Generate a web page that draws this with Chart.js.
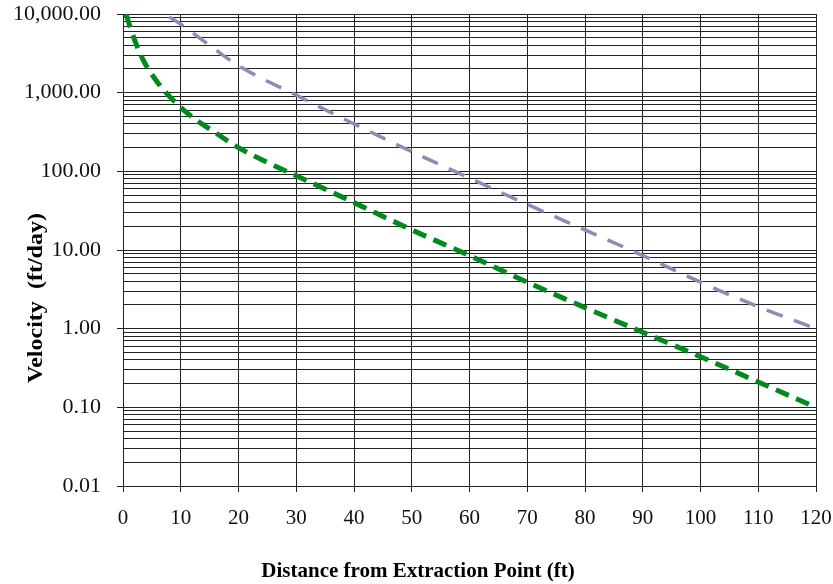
<!DOCTYPE html>
<html>
<head>
<meta charset="utf-8">
<script src="https://cdn.jsdelivr.net/npm/chart.js@4.4.1/dist/chart.umd.min.js"></script>
<style>
  html, body { margin: 0; padding: 0; background: #ffffff; }
  #wrap { width: 833px; height: 584px; }
</style>
</head>
<body>
<div id="wrap"><canvas id="c" width="833" height="584"></canvas></div>
<script>
// ---- Data ----
const greenDistance = [0.5, 2, 3.5, 6, 9, 12, 16, 20, 25, 30, 40, 50, 60, 70, 80, 90, 100, 110, 120];
const greenVelocity = [10000, 4700, 2600, 1350, 760, 490, 310, 200, 130, 88, 40, 18, 8.5, 3.9, 1.85, 0.9, 0.44, 0.21, 0.1];

const greyDistance = [8, 10, 15, 20, 30, 40, 50, 60, 70, 80, 90, 100, 110, 120];
const greyVelocity = [9200, 7400, 4000, 2200, 930, 400, 178, 82, 38, 18, 8.5, 3.9, 1.9, 1.0];

const xTickValues = [0, 10, 20, 30, 40, 50, 60, 70, 80, 90, 100, 110, 120];
const yTickValues = [0.01, 0.1, 1, 10, 100, 1000, 10000];
const yTickLabels = ['0.01', '0.10', '1.00', '10.00', '100.00', '1,000.00', '10,000.00'];

const xTitle = 'Distance from Extraction Point (ft)';
const yTitle = 'Velocity  (ft/day)';

// ---- Build chart ----
const toPoints = (xs, ys) => xs.map((x, i) => ({ x: x, y: ys[i] }));

function isMajor(v) {
  return yTickValues.some(t => Math.abs(v - t) / t < 1e-6);
}

const titlePlugin = {
  id: 'axisTitles',
  afterDraw(chart) {
    const ctx = chart.ctx;
    ctx.save();
    ctx.fillStyle = '#000';
    ctx.font = 'bold 21px "Liberation Serif", "Times New Roman", serif';
    ctx.textAlign = 'center';
    ctx.textBaseline = 'middle';
    ctx.fillText(xTitle, 418, 572);
    const w = ctx.measureText(yTitle).width;
    ctx.translate(37, 298);
    ctx.rotate(-Math.PI / 2);
    ctx.scale(170 / w, 1);
    ctx.fillText(yTitle, 0, 0);
    ctx.restore();
  }
};

new Chart(document.getElementById('c'), {
  type: 'line',
  data: {
    datasets: [
      {
        label: 'Series 2',
        data: toPoints(greyDistance, greyVelocity),
        borderColor: '#8c8cb4',
        borderWidth: 3.5,
        borderDash: [17, 12],
        pointRadius: 0,
        fill: false,
        cubicInterpolationMode: 'monotone'
      },
      {
        label: 'Series 1',
        data: toPoints(greenDistance, greenVelocity),
        borderColor: '#008a1e',
        borderWidth: 5,
        borderDash: [14, 8],
        pointRadius: 0,
        fill: false,
        cubicInterpolationMode: 'monotone'
      }
    ]
  },
  options: {
    responsive: false,
    animation: false,
    devicePixelRatio: 1,
    layout: { padding: { left: 0, top: 14, right: 17, bottom: 0 } },
    plugins: {
      legend: { display: false },
      tooltip: { enabled: false }
    },
    scales: {
      x: {
        type: 'linear',
        min: 0,
        max: 120,
        afterBuildTicks(scale) {
          scale.ticks = xTickValues.map(v => ({ value: v }));
        },
        afterFit(scale) {
          scale.height = 98;
          scale.paddingLeft = 0; scale.paddingRight = 0;
          scale.paddingTop = 0; scale.paddingBottom = 0;
        },
        grid: {
          color: '#222',
          lineWidth: 1,
          tickLength: 6,
          tickColor: '#222'
        },
        border: { color: '#222', width: 1 },
        ticks: {
          padding: 14,
          color: '#111',
          font: { family: '"Liberation Serif", "Times New Roman", serif', size: 21 },
          maxRotation: 0,
          autoSkip: false
        }
      },
      y: {
        type: 'logarithmic',
        min: 0.01,
        max: 10000,
        afterBuildTicks(scale) {
          const ticks = [];
          for (let i = 0; i < yTickValues.length; i++) {
            const base = yTickValues[i];
            if (i === yTickValues.length - 1) {
              ticks.push({ value: base });
            } else {
              for (let m = 1; m <= 9; m++) ticks.push({ value: base * m });
            }
          }
          scale.ticks = ticks;
        },
        afterFit(scale) {
          scale.width = 123;
          scale.paddingLeft = 0; scale.paddingRight = 0;
          scale.paddingTop = 0; scale.paddingBottom = 0;
        },
        grid: {
          color: '#222',
          lineWidth: 1,
          tickLength: 6,
          tickColor: (ctx) => (ctx.tick && isMajor(ctx.tick.value)) ? '#222' : 'rgba(0,0,0,0)'
        },
        border: { color: '#222', width: 1 },
        ticks: {
          padding: 16,
          color: '#111',
          autoSkip: false,
          font: { family: '"Liberation Serif", "Times New Roman", serif', size: 22 },
          callback: function (value) {
            const idx = yTickValues.findIndex(t => Math.abs(value - t) / t < 1e-6);
            return idx >= 0 ? yTickLabels[idx] : '';
          }
        }
      }
    }
  },
  plugins: [titlePlugin]
});
</script>
</body>
</html>
